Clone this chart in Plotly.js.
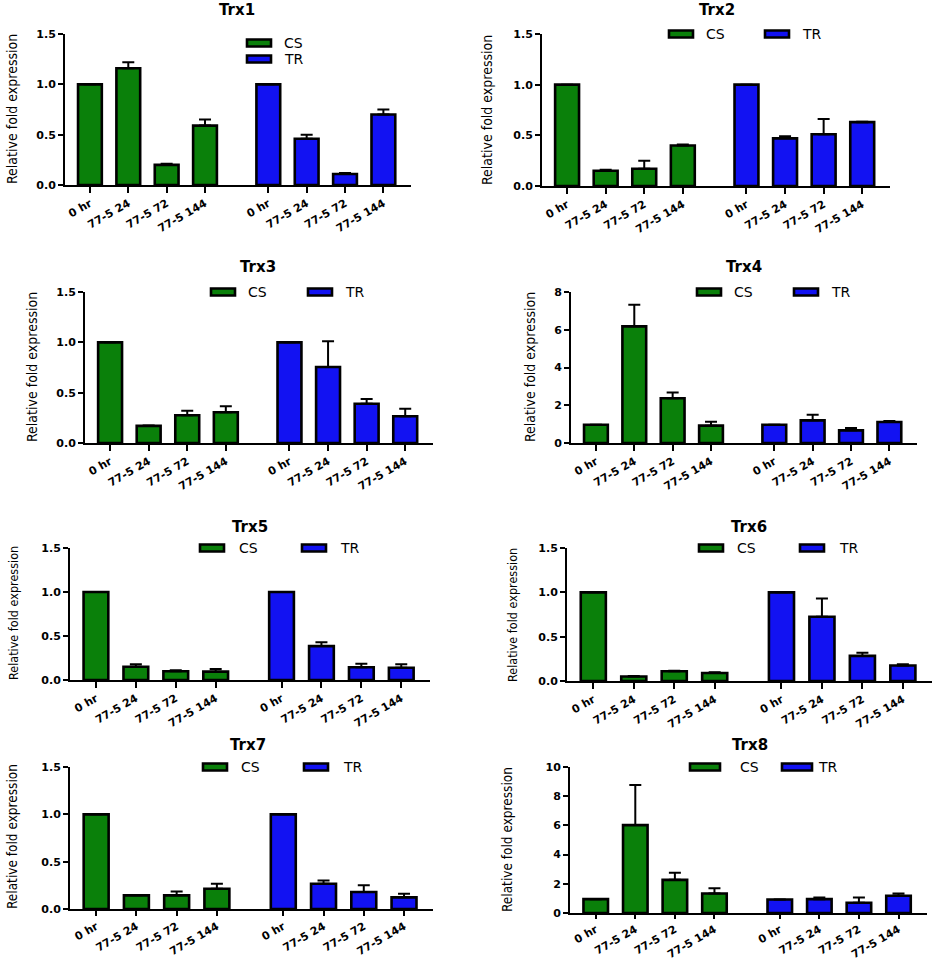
<!DOCTYPE html>
<html>
<head>
<meta charset="utf-8">
<script src="https://cdn.plot.ly/plotly-3.0.1.min.js"></script>
<style>
  html, body { margin: 0; padding: 0; background: #fff; }
  #chart { width: 934px; height: 960px; }
</style>
</head>
<body>
<div id="chart"></div>
<script>
// values (mean and upper error bar)
var genes = ['Trx1', 'Trx2', 'Trx3', 'Trx4', 'Trx5', 'Trx6', 'Trx7', 'Trx8'];
var timepoints = ['0 hr', '77-5 24', '77-5 72', '77-5 144'];
var groups = ['CS', 'TR'];

var trx1_cs = [1.0, 1.16, 0.20, 0.59];
var trx1_cs_err = [0, 0.06, 0.01, 0.06];
var trx1_tr = [1.0, 0.46, 0.11, 0.70];
var trx1_tr_err = [0, 0.04, 0.01, 0.05];

var trx2_cs = [1.0, 0.15, 0.17, 0.40];
var trx2_cs_err = [0, 0.01, 0.08, 0.01];
var trx2_tr = [1.0, 0.47, 0.51, 0.63];
var trx2_tr_err = [0, 0.02, 0.15, 0.005];

var trx3_cs = [1.0, 0.17, 0.275, 0.305];
var trx3_cs_err = [0, 0.005, 0.045, 0.06];
var trx3_tr = [1.0, 0.755, 0.39, 0.265];
var trx3_tr_err = [0, 0.255, 0.047, 0.075];

var trx4_cs = [0.97, 6.18, 2.37, 0.92];
var trx4_cs_err = [0, 1.15, 0.30, 0.20];
var trx4_tr = [0.97, 1.2, 0.67, 1.11];
var trx4_tr_err = [0, 0.30, 0.13, 0.06];

var trx5_cs = [1.0, 0.15, 0.10, 0.095];
var trx5_cs_err = [0, 0.028, 0.01, 0.03];
var trx5_tr = [1.0, 0.385, 0.145, 0.14];
var trx5_tr_err = [0, 0.045, 0.04, 0.04];

var trx6_cs = [1.0, 0.05, 0.11, 0.09];
var trx6_cs_err = [0, 0.007, 0.007, 0.008];
var trx6_tr = [1.0, 0.725, 0.283, 0.174];
var trx6_tr_err = [0, 0.205, 0.037, 0.016];

var trx7_cs = [1.0, 0.144, 0.144, 0.214];
var trx7_cs_err = [0, 0, 0.042, 0.052];
var trx7_tr = [1.0, 0.266, 0.18, 0.123];
var trx7_tr_err = [0, 0.034, 0.07, 0.037];

var trx8_cs = [0.95, 6.02, 2.27, 1.34];
var trx8_cs_err = [0, 2.75, 0.48, 0.36];
var trx8_tr = [0.92, 0.95, 0.7, 1.18];
var trx8_tr_err = [0, 0.12, 0.37, 0.16];

var yMax = [1.5, 1.5, 1.5, 8, 1.5, 1.5, 1.5, 10];
var yStep = [0.5, 0.5, 0.5, 2, 0.5, 0.5, 0.5, 2];

var csMeans = [trx1_cs, trx2_cs, trx3_cs, trx4_cs, trx5_cs, trx6_cs, trx7_cs, trx8_cs];
var csErrs = [trx1_cs_err, trx2_cs_err, trx3_cs_err, trx4_cs_err, trx5_cs_err, trx6_cs_err, trx7_cs_err, trx8_cs_err];
var trMeans = [trx1_tr, trx2_tr, trx3_tr, trx4_tr, trx5_tr, trx6_tr, trx7_tr, trx8_tr];
var trErrs = [trx1_tr_err, trx2_tr_err, trx3_tr_err, trx4_tr_err, trx5_tr_err, trx6_tr_err, trx7_tr_err, trx8_tr_err];

// page geometry in pixels: plot box, title, y title, legend [boxX, boxY, textX]
var W = 934, H = 960;
var panels = [
    { x0: 65,  x1: 411, top: 34,  bot: 185, tx: 237, ty: 10,  yt: 12,  ytc: 109, ytf: 14, tl: 6, leg: [[247, 43, 282], [247, 59, 282]] },
    { x0: 542, x1: 890, top: 34,  bot: 186, tx: 717, ty: 10,  yt: 487, ytc: 110, ytf: 14, tl: 6, leg: [[669, 34, 704], [765, 34, 800]] },
    { x0: 85,  x1: 433, top: 292, bot: 443, tx: 258, ty: 267, yt: 32,  ytc: 367, ytf: 14, tl: 6, leg: [[211, 292, 246], [308, 292, 343]] },
    { x0: 571, x1: 917, top: 292, bot: 443, tx: 744, ty: 267, yt: 530, ytc: 367, ytf: 14, tl: 6, leg: [[697, 292, 732], [794, 292, 829]] },
    { x0: 70,  x1: 430, top: 548, bot: 680, tx: 250, ty: 527, yt: 13,  ytc: 613, ytf: 12.5, tl: 6, leg: [[200, 548, 237], [302, 548, 338]] },
    { x0: 567, x1: 932, top: 548, bot: 681, tx: 749, ty: 527, yt: 512, ytc: 615, ytf: 12.5, tl: 6, leg: [[699, 548, 735], [800, 548, 837]] },
    { x0: 70,  x1: 433, top: 767, bot: 909, tx: 248, ty: 745, yt: 12,  ytc: 837, ytf: 13.5, tl: 5, leg: [[203, 767, 239], [304, 767, 341]] },
    { x0: 570, x1: 927, top: 767, bot: 913, tx: 750, ty: 745, yt: 507, ytc: 840, ytf: 13.5, tl: 4, leg: [[690, 767, 738], [782, 767, 816]] }
];

var colors = ['#0a800a', '#1212f2'];
var groupGap = 4.65;
var barWidth = 0.62;

var tickFontX = { family: 'DejaVu Sans, Arial, sans-serif', size: 11, color: '#000', weight: 700 };
var tickFontY = { family: 'DejaVu Sans, Arial, sans-serif', size: 11, color: '#000', weight: 700 };

var data = [];
var layout = {
    width: W,
    height: H,
    margin: { l: 0, r: 0, t: 0, b: 0 },
    paper_bgcolor: '#fff',
    plot_bgcolor: 'rgba(0,0,0,0)',
    showlegend: false,
    annotations: [],
    shapes: []
};

function px(x) { return x / W; }
function py(y) { return 1 - y / H; }

genes.forEach(function (gene, p) {
    var n = p === 0 ? '' : String(p + 1);
    var box = panels[p];
    var csX = timepoints.map(function (t, i) { return i; });
    var trX = timepoints.map(function (t, i) { return i + groupGap; });
    var zeros = timepoints.map(function () { return 0; });

    [[csX, csMeans[p], csErrs[p]], [trX, trMeans[p], trErrs[p]]].forEach(function (s, g) {
        data.push({
            type: 'bar',
            name: groups[g],
            x: s[0],
            y: s[1],
            width: barWidth,
            xaxis: 'x' + n,
            yaxis: 'y' + n,
            marker: { color: colors[g], line: { color: '#000', width: 2.6 } },
            error_y: {
                type: 'data', symmetric: false, array: s[2], arrayminus: zeros,
                color: '#000', thickness: 2, width: 6
            },
            hoverinfo: 'x+y'
        });
    });

    var ticks = [];
    for (var v = 0; v <= yMax[p] + 1e-9; v += yStep[p]) ticks.push(+v.toFixed(2));

    layout['xaxis' + n] = {
        domain: [px(box.x0), px(box.x1)],
        anchor: 'y' + n,
        range: [-0.65, groupGap + 3 + 0.72],
        tickvals: csX.concat(trX),
        ticktext: timepoints.concat(timepoints),
        tickangle: -30,
        tickfont: tickFontX,
        ticks: 'outside', ticklen: box.tl, tickwidth: 2, tickcolor: '#000',
        showline: true, linecolor: '#000', linewidth: 2,
        showgrid: false, zeroline: false, fixedrange: true
    };
    layout['yaxis' + n] = {
        domain: [py(box.bot), py(box.top)],
        anchor: 'x' + n,
        range: [0, yMax[p]],
        tickvals: ticks,
        tickformat: yMax[p] < 2 ? '.1f' : 'd',
        tickfont: tickFontY,
        ticks: 'outside', ticklen: 5, tickwidth: 2, tickcolor: '#000',
        showline: true, linecolor: '#000', linewidth: 2,
        showgrid: false, zeroline: false, fixedrange: true
    };

    // panel title
    layout.annotations.push({
        text: gene, xref: 'paper', yref: 'paper', x: px(box.tx), y: py(box.ty),
        xanchor: 'center', yanchor: 'middle', showarrow: false,
        font: { family: 'DejaVu Sans, Arial, sans-serif', size: 15, color: '#000', weight: 700 }
    });
    // y axis title
    layout.annotations.push({
        text: 'Relative fold expression', xref: 'paper', yref: 'paper',
        x: px(box.yt), y: py(box.ytc), textangle: -90,
        xanchor: 'center', yanchor: 'middle', showarrow: false,
        font: { family: 'Liberation Sans Narrow, Arial Narrow, DejaVu Sans Condensed, sans-serif', size: box.ytf, color: '#000' }
    });
    // legend boxes + labels
    groups.forEach(function (gname, g) {
        var lx = box.leg[g][0], ly = box.leg[g][1], tx = box.leg[g][2];
        var bw = p === 7 ? 30 : 24;
        layout.shapes.push({
            type: 'rect', xref: 'paper', yref: 'paper',
            x0: px(lx), x1: px(lx + bw), y0: py(ly + 3.5), y1: py(ly - 3.5),
            fillcolor: colors[g], line: { color: '#000', width: 2.6 }
        });
        layout.annotations.push({
            text: gname, xref: 'paper', yref: 'paper',
            x: px(tx), y: py(ly),
            xanchor: 'left', yanchor: 'middle', showarrow: false,
            font: { family: 'DejaVu Sans, Arial, sans-serif', size: 14, color: '#000' }
        });
    });
});

Plotly.newPlot('chart', data, layout, { displayModeBar: false, staticPlot: true });
</script>
</body>
</html>
